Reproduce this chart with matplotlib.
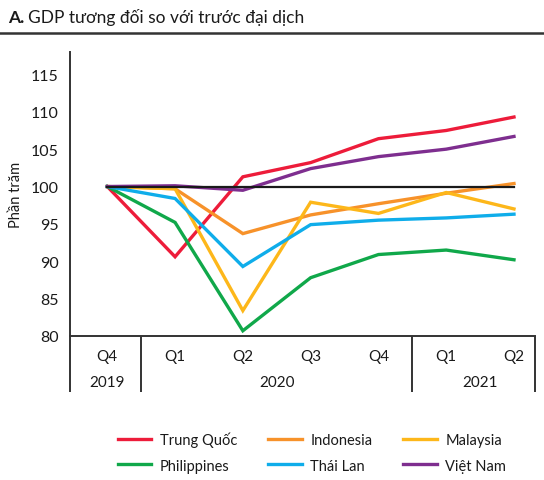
import matplotlib
matplotlib.use("Agg")
import matplotlib.pyplot as plt
from matplotlib.lines import Line2D

plt.rcParams['font.family'] = ['Lato', 'Open Sans', 'DejaVu Sans']

quarters = ["Q4", "Q1", "Q2", "Q3", "Q4", "Q1", "Q2"]
years = ["2019", "2020", "2021"]
year_pos = [0, 2.5, 5.5]
year_breaks = [0.5, 4.5]

trung_quoc = [100, 90.6, 101.3, 103.2, 106.4, 107.5, 109.3]
indonesia = [100, 99.7, 93.7, 96.2, 97.7, 99.1, 100.4]
malaysia = [100, 99.7, 83.4, 97.9, 96.4, 99.2, 97.0]
philippines = [100, 95.2, 80.7, 87.8, 90.9, 91.5, 90.2]
thai_lan = [100, 98.4, 89.3, 94.9, 95.5, 95.8, 96.3]
viet_nam = [100, 100.1, 99.5, 102.4, 104.0, 105.0, 106.7]
baseline = [100] * 7

series = [
    ("Trung Quốc", trung_quoc, "#ED1C3A"),
    ("Indonesia", indonesia, "#F7922A"),
    ("Malaysia", malaysia, "#FDB71A"),
    ("Philippines", philippines, "#10A84A"),
    ("Thái Lan", thai_lan, "#0FADEA"),
    ("Việt Nam", viet_nam, "#7E2E8F"),
]

W, H = 544, 481
fig = plt.figure(figsize=(W / 100, H / 100), dpi=100)

def fx(px):
    return px / W

def fy(py):
    return 1 - py / H

left, right, top, bottom = 70, 535, 53, 337
ax = fig.add_axes([fx(left), fy(bottom), fx(right - left), fy(top) - fy(bottom)])

x = list(range(len(quarters)))
handles = {}
for name, vals, col in series:
    ln, = ax.plot(x, vals, color=col, lw=2.4, solid_joinstyle='miter', label=name)
    handles[name] = ln
ax.plot(x, baseline, color="#1a1a1a", lw=1.6, zorder=5)

xmin, xmax = -0.55, 6.31
ax.set_xlim(xmin, xmax)
ax.set_ylim(80, 118)
ax.set_yticks([80, 85, 90, 95, 100, 105, 110, 115])
ax.tick_params(axis='y', length=0, labelsize=11.5, colors="#1a1a1a", pad=8)
ax.set_xticks([])
for s in ["top", "right"]:
    ax.spines[s].set_visible(False)
for s in ["left", "bottom"]:
    ax.spines[s].set_color("#333333")
    ax.spines[s].set_linewidth(1.4)
ax.set_ylabel("Phần trăm", fontsize=10.5, color="#1a1a1a", labelpad=6)

# table under the axis
tab_bottom = 393
tr = ax.get_xaxis_transform()
span = bottom - top
ybot = -(tab_bottom - bottom) / span
for xv in [xmin] + year_breaks + [xmax - 0.003]:
    ax.add_line(Line2D([xv, xv], [0, ybot], transform=tr, color="#333333", lw=1.4,
                       clip_on=False, solid_capstyle='butt'))
yq = -(357 - bottom) / span
yy = -(383 - bottom) / span
for xi, q in zip(x, quarters):
    ax.text(xi, yq, q, transform=tr, ha='center', va='center', fontsize=11, color="#1a1a1a")
for xp, yr in zip(year_pos, years):
    ax.text(xp, yy, yr, transform=tr, ha='center', va='center', fontsize=11, color="#1a1a1a")

# title
fig.text(fx(8), fy(18), "A.", fontsize=12.5, fontweight='bold', ha='left', va='center', color="#1a1a1a")
fig.text(fx(28), fy(18), "GDP tương đối so với trước đại dịch", fontsize=12.5, ha='left', va='center', color="#1a1a1a")
fig.add_artist(Line2D([0, 1], [fy(34), fy(34)], transform=fig.transFigure, color="#333333", lw=1.8))

order = ["Trung Quốc", "Philippines", "Indonesia", "Thái Lan", "Malaysia", "Việt Nam"]
leg = fig.legend([handles[n] for n in order], order, ncol=3, loc='center',
                 bbox_to_anchor=(fx(312), fy(453)), frameon=False, fontsize=10.5,
                 handlelength=2.3, columnspacing=2.1, handletextpad=0.6, labelspacing=0.8)
for t in leg.get_texts():
    t.set_color("#1a1a1a")

fig.savefig("out.png", dpi=100)
